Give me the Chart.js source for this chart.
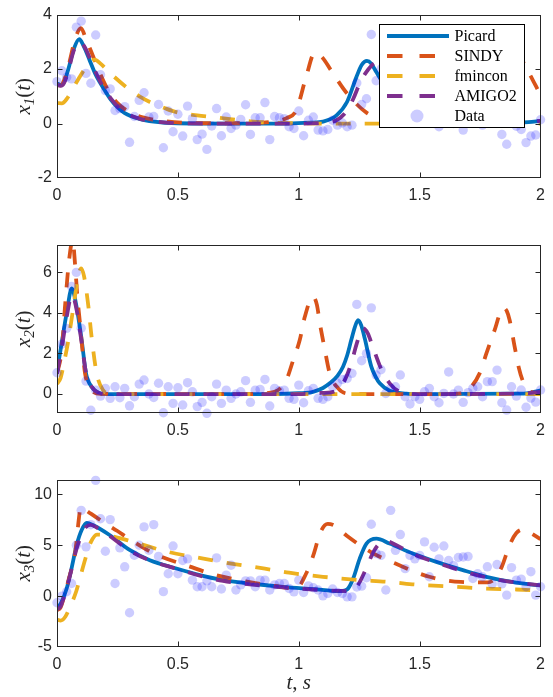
<!DOCTYPE html>
<html>
<head>
<meta charset="utf-8">
<script src="https://cdn.jsdelivr.net/npm/chart.js@4.4.1/dist/chart.umd.min.js"></script>
<style>
  body { margin: 0; background: #fff; }
  #wrap { position: relative; width: 553px; height: 697px; }
  canvas { position: absolute; left: 0; }
</style>
</head>
<body>
<div id="wrap">
  <canvas id="c1" width="553" height="215" style="top:0px"></canvas>
  <canvas id="c2" width="553" height="215" style="top:230px"></canvas>
  <canvas id="c3" width="553" height="232" style="top:465px"></canvas>
</div>
<script>
// series names / colours (MATLAB default order)
var seriesNames = ['Picard', 'SINDY', 'fmincon', 'AMIGO2', 'Data'];
var seriesColors = ['#0072BD', '#D95319', '#EDB120', '#7E2F8E', 'rgba(0,0,255,0.2)'];

var xTicks = [0, 0.5, 1, 1.5, 2];
var yTicks1 = [-2, 0, 2, 4];
var yTicks2 = [0, 2, 4, 6];
var yTicks3 = [-5, 0, 5, 10];

// measurement times of the noisy data
var tData = [0,0.02,0.04,0.06,0.08,0.1,0.12,0.14,0.16,0.18,
  0.2,0.22,0.24,0.26,0.28,0.3,0.32,0.34,0.36,0.38,
  0.4,0.42,0.44,0.46,0.48,0.5,0.52,0.54,0.56,0.58,
  0.6,0.62,0.64,0.66,0.68,0.7,0.72,0.74,0.76,0.78,
  0.8,0.82,0.84,0.86,0.88,0.9,0.92,0.94,0.96,0.98,
  1,1.02,1.04,1.06,1.08,1.1,1.12,1.14,1.16,1.18,
  1.2,1.22,1.24,1.26,1.28,1.3,1.32,1.34,1.36,1.38,
  1.4,1.42,1.44,1.46,1.48,1.5,1.52,1.54,1.56,1.58,
  1.6,1.62,1.64,1.66,1.68,1.7,1.72,1.74,1.76,1.78,
  1.8,1.82,1.84,1.86,1.88,1.9,1.92,1.94,1.96,1.98,
  2];

var data1 = [1.54,1.94,1.70,1.64,3.54,3.76,1.84,1.48,3.25,1.79,
  1.21,1.27,0.48,0.55,0.62,-0.69,0.26,0.85,1.13,0.24,
  0.26,0.70,-0.89,0.46,-0.30,0.34,-0.46,0.64,0.18,-0.59,
  -0.39,-0.95,-0.09,0.55,-0.45,0.24,-0.18,-0.06,0.15,0.69,
  -0.40,0.21,0.21,0.77,-0.59,0.26,0.21,0.18,-0.12,-0.18,
  0.46,-0.45,0.12,0.24,-0.24,-0.27,-0.22,0.12,-0.06,0.02,
  -0.12,-0.06,1.49,0.70,0.91,3.27,1.57,2.00,1.30,1.50,
  0.90,1.40,0.50,0.10,0.30,0.10,0.40,0.50,0.00,-0.12,
  0.05,0.90,0.00,0.20,-0.24,0.10,0.30,0.30,-0.06,0.60,
  0.60,1.10,-0.40,-0.76,0.30,-0.10,-0.22,-0.70,-0.46,-0.42,
  0.14];

var data2 = [1.05,2.46,3.24,5.30,6.00,3.25,0.64,-0.80,0.19,-0.10,
  0.28,-0.21,0.36,-0.18,0.28,-0.58,-0.13,0.49,0.69,0.00,
  -0.17,0.53,-0.92,0.36,-0.46,0.31,-0.54,0.56,0.11,-0.62,
  -0.41,-0.95,-0.13,0.49,-0.46,0.19,-0.21,0.00,0.11,0.66,
  -0.41,0.19,0.23,0.72,-0.59,0.28,0.16,0.19,-0.21,-0.26,
  0.44,-0.43,0.16,0.28,-0.21,-0.26,-0.13,0.36,0.53,0.72,
  0.77,1.02,4.42,1.64,2.00,4.25,0.94,1.20,0.03,0.28,
  0.36,0.94,-0.13,-0.49,-0.13,-0.26,0.11,0.28,-0.13,-0.43,
  0.03,1.09,0.00,0.19,-0.41,0.07,0.28,0.36,-0.13,0.61,
  0.61,1.18,-0.43,-0.79,0.36,-0.10,0.20,-0.65,-0.20,-0.40,
  0.20];

var data3 = [-0.65,0.00,0.43,1.24,5.00,8.43,4.84,7.02,11.37,7.60,
  4.41,7.52,1.24,4.74,2.88,-1.63,4.02,5.00,6.80,4.51,
  7.03,3.90,0.44,2.20,4.93,2.20,3.50,3.66,1.57,0.92,
  0.92,1.50,0.92,3.76,0.70,2.06,3.04,0.60,1.10,1.50,
  1.50,0.92,1.57,1.57,0.60,1.10,1.24,1.24,0.75,0.42,
  1.57,0.36,1.00,0.82,0.60,0.03,0.26,0.70,0.36,0.26,
  -0.07,-0.07,0.90,0.98,1.80,7.06,4.18,4.00,0.60,8.43,
  4.50,6.05,2.70,4.00,3.66,4.00,5.33,1.90,4.80,3.66,
  4.93,3.50,3.00,3.80,3.85,3.90,1.73,2.20,1.90,2.88,
  1.20,3.10,1.20,0.10,2.80,1.57,1.67,0.92,2.40,0.10,
  0.92];

// ---- x1(t) model curves
var picT1 = [0,0.015,0.03,0.047,0.07,0.092,0.11,0.136,0.157,0.178,0.2,0.22,0.25,0.28,0.34,0.4,0.5,0.7,0.95,1.05,1.1,1.156,1.2,1.238,1.26,1.282,1.3,1.32,1.36,1.4,1.45,1.5,1.55,1.6,1.7,1.8,1.9,1.95,2];
var picV1 = [1.47,1.42,1.55,2.0,2.75,3.1,2.85,2.3,1.85,1.5,1.18,0.91,0.6,0.38,0.17,0.07,0.01,0,0,0.03,0.07,0.3,0.8,1.7,2.15,2.3,2.2,1.9,1.35,0.95,0.55,0.32,0.18,0.1,0.03,0.01,0.03,0.05,0.1];
var sinT1 = [0,0.015,0.03,0.05,0.075,0.099,0.12,0.15,0.18,0.21,0.25,0.3,0.35,0.45,0.55,0.7,0.85,0.9,0.95,0.99,1.03,1.066,1.1,1.13,1.2,1.28,1.35,1.45,1.6,1.7,1.76,1.82,1.87,1.9,1.94,2];
var sinV1 = [1.42,1.4,1.6,2.2,3.1,3.5,3.1,2.45,1.8,1.25,0.75,0.42,0.24,0.08,0.02,0.01,0.03,0.08,0.2,0.49,1.7,2.6,2.4,2.0,1.1,0.4,0.15,0.04,0.02,0.08,0.35,1.3,2.4,2.6,2.05,1.05];
var fmiT1 = [0,0.02,0.04,0.07,0.1,0.13,0.155,0.18,0.22,0.288,0.35,0.384,0.45,0.494,0.58,0.66,0.8,0.9,1.1,2];
var fmiV1 = [0.75,0.74,0.9,1.35,1.8,2.2,2.35,2.2,1.85,1.33,0.95,0.79,0.55,0.42,0.3,0.22,0.08,0.03,0,0];
var amiT1 = [0,0.015,0.03,0.047,0.07,0.094,0.115,0.14,0.16,0.18,0.2,0.22,0.25,0.28,0.34,0.4,0.5,0.7,1.0,1.1,1.156,1.197,1.225,1.251,1.28,1.314,1.335,1.36,1.4,1.45,1.5,1.55,1.6,1.7,1.8,1.9,1.95,2];
var amiV1 = [1.42,1.38,1.5,1.95,2.7,3.0,2.8,2.3,1.88,1.52,1.21,0.95,0.63,0.41,0.18,0.08,0.01,0,0,0.03,0.12,0.44,0.9,1.45,1.9,2.22,2.25,2.05,1.5,0.95,0.55,0.3,0.16,0.05,0.02,0.03,0.05,0.1];

// ---- x2(t) model curves
var picT2 = [0,0.019,0.04,0.061,0.081,0.102,0.12,0.143,0.171,0.205,0.9,1.0,1.059,1.1,1.128,1.16,1.183,1.2,1.217,1.232,1.245,1.258,1.273,1.3,1.318,1.335,1.376,1.445,1.5,1.9,1.95,2];
var picV2 = [1.1,2.5,4.0,5.21,4.3,2.66,1.02,0.36,0.07,0,0,0.04,0.11,0.3,0.53,0.9,1.35,1.9,2.66,3.3,3.65,3.4,2.74,1.35,0.85,0.53,0.16,0.02,0,0.02,0.05,0.18];
var sinT2 = [0,0.02,0.033,0.05,0.065,0.074,0.085,0.095,0.105,0.116,0.13,0.15,0.18,0.8,0.87,0.9,0.925,0.949,0.977,1.004,1.025,1.059,1.075,1.087,1.108,1.128,1.163,1.197,1.25,1.6,1.672,1.713,1.748,1.776,1.81,1.845,1.86,1.872,1.893,1.91,1.925,1.95,1.98,2];
var sinV2 = [1.0,2.2,4.3,6.6,7.6,6.5,4.7,3.5,2.2,1.02,0.45,0.11,0.01,0,0.05,0.11,0.3,0.7,1.68,2.66,3.81,4.8,4.4,3.5,2.17,1.02,0.28,0.03,0,0,0.03,0.36,1.02,2.0,3.15,4.25,4.1,3.65,2.33,1.3,0.7,0.2,0.03,0];
var fmiT2 = [0,0.015,0.03,0.047,0.068,0.088,0.1,0.112,0.13,0.143,0.164,0.19,0.22,0.3,2];
var fmiV2 = [0.5,0.8,1.6,2.66,4.3,5.8,6.2,5.8,4.3,2.83,1.02,0.2,0.02,0,0];
var amiT2 = [0,0.02,0.04,0.062,0.082,0.1,0.12,0.143,0.171,0.21,1.0,1.08,1.142,1.183,1.217,1.24,1.265,1.285,1.306,1.34,1.376,1.417,1.46,1.5,1.9,2];
var amiV2 = [1.0,2.3,3.8,4.9,4.1,2.7,1.05,0.36,0.07,0,0,0.05,0.11,0.53,1.51,2.5,3.25,3.0,2.33,1.26,0.53,0.11,0.02,0,0.02,0.1];

// ---- x3(t) model curves
var picT3 = [0,0.01,0.019,0.04,0.06,0.081,0.102,0.123,0.15,0.219,0.302,0.384,0.494,0.591,0.687,0.797,0.935,1.059,1.17,1.19,1.204,1.225,1.252,1.28,1.321,1.376,1.472,1.569,1.679,1.776,1.893,2];
var picV3 = [-1.0,-0.9,-0.55,0.75,2.7,5.0,6.5,7.2,6.96,5.98,4.51,3.53,2.71,2.06,1.57,1.24,0.91,0.69,0.49,0.55,0.75,1.73,3.69,5.16,5.65,5.16,4.18,3.36,2.55,1.9,1.34,1.05];
var sinT3 = [0,0.015,0.03,0.05,0.076,0.09,0.098,0.11,0.14,0.19,0.25,0.3,0.4,0.55,0.65,0.78,0.9,0.99,1.03,1.06,1.09,1.12,1.15,1.2,1.3,1.4,1.54,1.67,1.78,1.81,1.84,1.87,1.9,1.93,1.96,2];
var sinV3 = [-1.4,-1.1,0.0,1.8,4.4,7.5,8.76,8.6,8.1,7.3,6.4,5.6,4.2,2.9,2.1,1.45,1.0,0.75,2.2,4.0,6.3,7.1,6.9,5.9,4.3,3.2,1.9,1.4,1.35,1.7,2.9,4.9,6.2,6.55,6.2,5.6];
var fmiT3 = [0,0.015,0.035,0.055,0.08,0.1,0.12,0.14,0.165,0.2,0.32,0.45,0.6,0.72,0.86,0.96,1.1,1.24,1.37,1.5,1.63,1.77,1.9,2];
var fmiV3 = [-2.3,-2.4,-2.0,-1.0,0.5,2.2,3.9,5.3,6.05,6.0,5.3,4.4,3.7,3.2,2.7,2.3,1.9,1.6,1.4,1.1,0.95,0.75,0.65,0.55];
var amiT3 = [0,0.015,0.03,0.054,0.081,0.102,0.12,0.14,0.16,0.219,0.302,0.384,0.494,0.591,0.687,0.797,0.935,1.059,1.2,1.225,1.25,1.28,1.31,1.34,1.36,1.4,1.472,1.569,1.679,1.776,1.893,2];
var amiV3 = [-1.3,-1.0,0.0,2.06,4.67,6.0,6.8,7.0,6.8,5.9,4.45,3.5,2.7,2.0,1.5,1.15,0.85,0.65,0.5,0.55,1.3,2.8,4.4,5.3,5.42,5.05,4.15,3.3,2.45,1.85,1.35,1.05];

var INK = '#262626';
var DASH = [15, 14];

Chart.defaults.font.family = "'Liberation Sans', Arial, sans-serif";
Chart.defaults.animation = false;

function pts(t, v) {
  return t.map(function (ti, i) { return { x: ti, y: v[i] }; });
}

function lineSet(i, t, v) {
  return {
    type: 'line',
    label: seriesNames[i],
    data: pts(t, v),
    borderColor: seriesColors[i],
    borderWidth: 3.8,
    borderDash: i === 0 ? [] : DASH,
    borderCapStyle: 'butt',
    pointRadius: 0,
    fill: false,
    cubicInterpolationMode: 'monotone',
    clip: 0,
    order: 4 - i
  };
}

function dataSet(v) {
  return {
    type: 'scatter',
    label: seriesNames[4],
    data: pts(tData, v),
    backgroundColor: seriesColors[4],
    borderWidth: 0,
    pointBorderWidth: 0,
    pointRadius: 4.7,
    clip: false,
    order: 0
  };
}

// draw a run of text pieces centred at cx (baseline y)
function drawParts(ctx, parts, cx, y) {
  var w = 0;
  parts.forEach(function (p) { ctx.font = p[1]; w += ctx.measureText(p[0]).width; });
  var x = cx - w / 2;
  parts.forEach(function (p) {
    ctx.font = p[1];
    ctx.fillText(p[0], x, y + p[2]);
    x += ctx.measureText(p[0]).width;
  });
}

var IT = "italic 21px 'Liberation Serif', serif";
var UP = "21px 'Liberation Serif', serif";
var SUB = "italic 15px 'Liberation Serif', serif";

// frame, inward ticks, axis labels, legend
var axesBox = {
  id: 'axesBox',
  afterDatasetsDraw: function (chart, args, opts) {
    var ctx = chart.ctx, a = chart.chartArea;
    var xs = chart.scales.x, ys = chart.scales.y;
    var L = Math.round(a.left) + 0.5, R = Math.round(a.right) - 0.5;
    var T = Math.round(a.top) + 0.5, B = Math.round(a.bottom) - 0.5;
    ctx.save();
    ctx.strokeStyle = INK;
    ctx.lineWidth = 1;
    ctx.setLineDash([]);
    ctx.strokeRect(L, T, R - L, B - T);
    ctx.beginPath();
    xs.ticks.forEach(function (tk) {
      if (tk.value <= xs.min || tk.value >= xs.max) return;
      var px = Math.round(xs.getPixelForValue(tk.value)) + 0.5;
      ctx.moveTo(px, B); ctx.lineTo(px, B - 5);
      ctx.moveTo(px, T); ctx.lineTo(px, T + 5);
    });
    ys.ticks.forEach(function (tk) {
      if (tk.value <= ys.min || tk.value >= ys.max) return;
      var py = Math.round(ys.getPixelForValue(tk.value)) + 0.5;
      ctx.moveTo(L, py); ctx.lineTo(L + 5, py);
      ctx.moveTo(R, py); ctx.lineTo(R - 5, py);
    });
    ctx.stroke();

    // y label  x_k(t)
    ctx.fillStyle = INK;
    ctx.textAlign = 'left';
    ctx.textBaseline = 'alphabetic';
    ctx.save();
    ctx.translate(24, (a.top + a.bottom) / 2);
    ctx.rotate(-Math.PI / 2);
    drawParts(ctx, [['x', IT, 0], [opts.sub, SUB, 4], ['(', UP, 0], ['t', IT, 0], [')', UP, 0]], 0, 6);
    ctx.restore();

    if (opts.xlabel) {
      drawParts(ctx, [['t', IT, 0], [', ', UP, 0], ['s', IT, 0]], (a.left + a.right) / 2, 224);
    }

    if (opts.legend) {
      var w = 145, h = 103;
      var lx = Math.round(a.right - 17 - w) + 0.5, ly = Math.round(a.top + 9) + 0.5;
      ctx.fillStyle = '#fff';
      ctx.fillRect(lx, ly, w, h);
      ctx.strokeStyle = '#000';
      ctx.lineWidth = 1;
      ctx.strokeRect(lx, ly, w, h);
      ctx.font = "16px 'Liberation Serif', serif";
      ctx.textBaseline = 'middle';
      seriesNames.forEach(function (name, i) {
        var y = ly + 11.5 + i * 20;
        if (i < 4) {
          ctx.strokeStyle = seriesColors[i];
          ctx.lineWidth = 3.8;
          ctx.setLineDash(i === 0 ? [] : [15.5, 17]);
          ctx.beginPath();
          ctx.moveTo(lx + 7.5, y);
          ctx.lineTo(lx + 69.5, y);
          ctx.stroke();
        } else {
          ctx.fillStyle = seriesColors[4];
          ctx.beginPath();
          ctx.arc(lx + 37.5, y, 6.5, 0, Math.PI * 2);
          ctx.fill();
        }
        ctx.fillStyle = '#000';
        ctx.fillText(name, lx + 75, y + 1);
      });
    }
    ctx.restore();
  }
};

function makeChart(id, sets, yMin, yMax, yTicks, padTop, xHeight, opts) {
  return new Chart(document.getElementById(id), {
    type: 'line',
    data: { datasets: sets },
    options: {
      responsive: false,
      devicePixelRatio: 1,
      events: [],
      layout: { padding: { left: 0, right: 12, top: padTop, bottom: 0 } },
      plugins: { legend: { display: false }, tooltip: { enabled: false }, axesBox: opts },
      scales: {
        x: {
          type: 'linear', min: 0, max: 2,
          afterBuildTicks: function (s) { s.ticks = xTicks.map(function (v) { return { value: v }; }); },
          afterFit: function (s) { s.height = xHeight; },
          grid: { display: false, drawTicks: false },
          border: { display: false },
          ticks: { padding: 8, maxRotation: 0, color: INK, font: { size: 16 },
                   callback: function (v) { return String(v); } }
        },
        y: {
          type: 'linear', min: yMin, max: yMax,
          afterBuildTicks: function (s) { s.ticks = yTicks.map(function (v) { return { value: v }; }); },
          afterFit: function (s) { s.width = 57; },
          grid: { display: false, drawTicks: false },
          border: { display: false },
          ticks: { padding: 5, color: INK, font: { size: 16 },
                   callback: function (v) { return String(v); } }
        }
      }
    },
    plugins: [axesBox]
  });
}

makeChart('c1', [lineSet(0, picT1, picV1), lineSet(1, sinT1, sinV1), lineSet(2, fmiT1, fmiV1), lineSet(3, amiT1, amiV1), dataSet(data1)],
  -2, 4, yTicks1, 13.5, 37, { sub: '1', legend: true, xlabel: false });
makeChart('c2', [lineSet(0, picT2, picV2), lineSet(1, sinT2, sinV2), lineSet(2, fmiT2, fmiV2), lineSet(3, amiT2, amiV2), dataSet(data2)],
  -0.92, 7.35, yTicks2, 15, 32.3, { sub: '2', legend: false, xlabel: false });
makeChart('c3', [lineSet(0, picT3, picV3), lineSet(1, sinT3, sinV3), lineSet(2, fmiT3, fmiV3), lineSet(3, amiT3, amiV3), dataSet(data3)],
  -5, 11.45, yTicks3, 14, 50, { sub: '3', legend: false, xlabel: true });
</script>
</body>
</html>
